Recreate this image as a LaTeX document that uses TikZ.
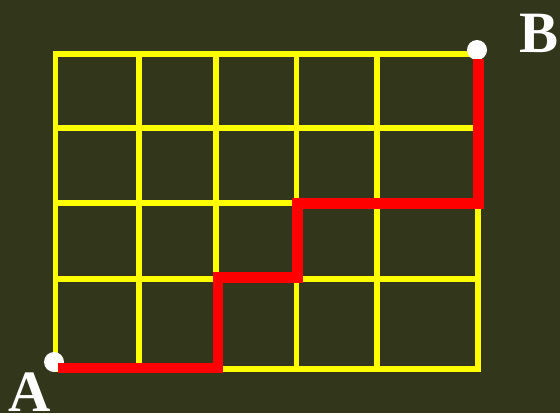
\documentclass[tikz,border=0pt]{standalone}
\usepackage{fontspec}
\setmainfont{Liberation Serif}
\definecolor{board}{RGB}{50,54,26}
\definecolor{gridyellow}{RGB}{255,255,0}
\definecolor{pathred}{RGB}{255,0,0}
\tikzset{
  gridline/.style={gridyellow,line width=4.8pt,line cap=rect},
  route/.style={pathred,line width=9pt,line join=miter},
  endpoint/.style={white},
  cornerlabel/.style={white,inner sep=0pt,font=\fontsize{50}{50}\selectfont\bfseries}
}

\begin{document}
\begin{tikzpicture}[x=0.03cm,y=-0.03cm]
% board background
\fill[board] (0,0) rectangle (560,413);
\useasboundingbox (0,0) rectangle (560,413);
% yellow grid, 5 columns by 4 rows
\foreach \x in {55.5,139,216,296.5,377,478}
  \draw[gridline] (\x,54) -- (\x,369);
\foreach \y in {54,128,203,279,369}
  \draw[gridline] (55.5,\y) -- (478,\y);
% end points
\coordinate (A) at (54,362);
\coordinate (B) at (477,50);
\fill[endpoint] (A) circle (10);
\fill[endpoint] (B) circle (10);
% corners of the red route
\coordinate (r0) at (58,368);
\coordinate (r1) at (218,368);
\coordinate (r2) at (218,277.5);
\coordinate (r3) at (297.5,277.5);
\coordinate (r4) at (297.5,203.5);
\coordinate (r5) at (478.5,203.5);
\coordinate (r6) at (478.5,59);
\draw[route] (r0) -- (r1) -- (r2) -- (r3) -- (r4) -- (r5) -- (r6);
% labels
\node[cornerlabel] (labA) at (30,392) {A};
\node[cornerlabel] (labB) at (539,33) {B};
\end{tikzpicture}
\end{document}
